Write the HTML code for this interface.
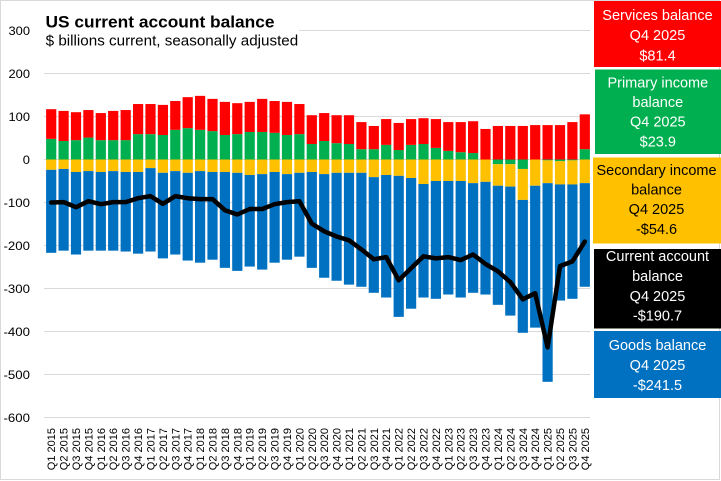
<!DOCTYPE html>
<html><head><meta charset="utf-8"><style>
html,body{margin:0;padding:0;background:#fff;}
body{width:721px;height:481px;overflow:hidden;}
svg{display:block;}
</style></head><body>
<svg width="721" height="481" viewBox="0 0 721 481" xmlns="http://www.w3.org/2000/svg" font-family="'Liberation Sans', sans-serif">
<rect x="0" y="0" width="721" height="481" fill="#fff"/>
<rect x="0.5" y="0.5" width="719" height="479" fill="none" stroke="#d9d9d9" stroke-width="1"/>
<g stroke="#d9d9d9" stroke-width="1">
<line x1="299" y1="30.5" x2="590" y2="30.5"/>
<line x1="44" y1="73.5" x2="590" y2="73.5"/>
<line x1="44" y1="116.5" x2="590" y2="116.5"/>
<line x1="44" y1="159.5" x2="590" y2="159.5"/>
<line x1="44" y1="202.5" x2="590" y2="202.5"/>
<line x1="44" y1="245.5" x2="590" y2="245.5"/>
<line x1="44" y1="288.5" x2="590" y2="288.5"/>
<line x1="44" y1="331.5" x2="590" y2="331.5"/>
<line x1="44" y1="374.5" x2="590" y2="374.5"/>
<line x1="44" y1="417.5" x2="590" y2="417.5"/>
</g>
<g transform="translate(0,159.5) scale(1,-0.43)">
<g fill="#00b050">
<rect x="46.1" y="0" width="10.2" height="48"/>
<rect x="58.5" y="0" width="10.2" height="43"/>
<rect x="70.9" y="0" width="10.2" height="45"/>
<rect x="83.3" y="0" width="10.2" height="51"/>
<rect x="95.7" y="0" width="10.2" height="45"/>
<rect x="108.1" y="0" width="10.2" height="45"/>
<rect x="120.6" y="0" width="10.2" height="45"/>
<rect x="133.0" y="0" width="10.2" height="59"/>
<rect x="145.4" y="0" width="10.2" height="59"/>
<rect x="157.8" y="0" width="10.2" height="57"/>
<rect x="170.2" y="0" width="10.2" height="69"/>
<rect x="182.6" y="0" width="10.2" height="73"/>
<rect x="195.0" y="0" width="10.2" height="69"/>
<rect x="207.4" y="0" width="10.2" height="66"/>
<rect x="219.8" y="0" width="10.2" height="57"/>
<rect x="232.2" y="0" width="10.2" height="59"/>
<rect x="244.6" y="0" width="10.2" height="64"/>
<rect x="257.1" y="0" width="10.2" height="64"/>
<rect x="269.5" y="0" width="10.2" height="62"/>
<rect x="281.9" y="0" width="10.2" height="57"/>
<rect x="294.3" y="0" width="10.2" height="59"/>
<rect x="306.7" y="0" width="10.2" height="36"/>
<rect x="319.1" y="0" width="10.2" height="43"/>
<rect x="331.5" y="0" width="10.2" height="38"/>
<rect x="343.9" y="0" width="10.2" height="36"/>
<rect x="356.3" y="0" width="10.2" height="24"/>
<rect x="368.7" y="0" width="10.2" height="24"/>
<rect x="381.1" y="0" width="10.2" height="34"/>
<rect x="393.6" y="0" width="10.2" height="22"/>
<rect x="406.0" y="0" width="10.2" height="34"/>
<rect x="418.4" y="0" width="10.2" height="36"/>
<rect x="430.8" y="0" width="10.2" height="27"/>
<rect x="443.2" y="0" width="10.2" height="20"/>
<rect x="455.6" y="0" width="10.2" height="17"/>
<rect x="468.0" y="0" width="10.2" height="15"/>
<rect x="492.8" y="-11" width="10.2" height="11"/>
<rect x="505.2" y="-11" width="10.2" height="11"/>
<rect x="517.7" y="-22" width="10.2" height="22"/>
<rect x="542.5" y="-2" width="10.2" height="2"/>
<rect x="554.9" y="-4" width="10.2" height="4"/>
<rect x="567.3" y="-2" width="10.2" height="2"/>
<rect x="579.7" y="0" width="10.2" height="24"/>
</g>
<g fill="#ff0000">
<rect x="46.1" y="48" width="10.2" height="69"/>
<rect x="58.5" y="43" width="10.2" height="70"/>
<rect x="70.9" y="45" width="10.2" height="65"/>
<rect x="83.3" y="51" width="10.2" height="64"/>
<rect x="95.7" y="45" width="10.2" height="63"/>
<rect x="108.1" y="45" width="10.2" height="68"/>
<rect x="120.6" y="45" width="10.2" height="70"/>
<rect x="133.0" y="59" width="10.2" height="70"/>
<rect x="145.4" y="59" width="10.2" height="70"/>
<rect x="157.8" y="57" width="10.2" height="70"/>
<rect x="170.2" y="69" width="10.2" height="67"/>
<rect x="182.6" y="73" width="10.2" height="72"/>
<rect x="195.0" y="69" width="10.2" height="79"/>
<rect x="207.4" y="66" width="10.2" height="75"/>
<rect x="219.8" y="57" width="10.2" height="77"/>
<rect x="232.2" y="59" width="10.2" height="72"/>
<rect x="244.6" y="64" width="10.2" height="70"/>
<rect x="257.1" y="64" width="10.2" height="77"/>
<rect x="269.5" y="62" width="10.2" height="74"/>
<rect x="281.9" y="57" width="10.2" height="77"/>
<rect x="294.3" y="59" width="10.2" height="70"/>
<rect x="306.7" y="36" width="10.2" height="67"/>
<rect x="319.1" y="43" width="10.2" height="65"/>
<rect x="331.5" y="38" width="10.2" height="65"/>
<rect x="343.9" y="36" width="10.2" height="67"/>
<rect x="356.3" y="24" width="10.2" height="63"/>
<rect x="368.7" y="24" width="10.2" height="54"/>
<rect x="381.1" y="34" width="10.2" height="60"/>
<rect x="393.6" y="22" width="10.2" height="63"/>
<rect x="406.0" y="34" width="10.2" height="60"/>
<rect x="418.4" y="36" width="10.2" height="60"/>
<rect x="430.8" y="27" width="10.2" height="67"/>
<rect x="443.2" y="20" width="10.2" height="67"/>
<rect x="455.6" y="17" width="10.2" height="70"/>
<rect x="468.0" y="15" width="10.2" height="74"/>
<rect x="480.4" y="0" width="10.2" height="71"/>
<rect x="492.8" y="0" width="10.2" height="78"/>
<rect x="505.2" y="0" width="10.2" height="78"/>
<rect x="517.7" y="0" width="10.2" height="78"/>
<rect x="530.1" y="0" width="10.2" height="80"/>
<rect x="542.5" y="0" width="10.2" height="80"/>
<rect x="554.9" y="0" width="10.2" height="80"/>
<rect x="567.3" y="0" width="10.2" height="87"/>
<rect x="579.7" y="24" width="10.2" height="81"/>
</g>
<g fill="#ffc000">
<rect x="46.1" y="-24" width="10.2" height="24"/>
<rect x="58.5" y="-22" width="10.2" height="22"/>
<rect x="70.9" y="-29" width="10.2" height="29"/>
<rect x="83.3" y="-27" width="10.2" height="27"/>
<rect x="95.7" y="-29" width="10.2" height="29"/>
<rect x="108.1" y="-27" width="10.2" height="27"/>
<rect x="120.6" y="-29" width="10.2" height="29"/>
<rect x="133.0" y="-29" width="10.2" height="29"/>
<rect x="145.4" y="-20" width="10.2" height="20"/>
<rect x="157.8" y="-31" width="10.2" height="31"/>
<rect x="170.2" y="-27" width="10.2" height="27"/>
<rect x="182.6" y="-31" width="10.2" height="31"/>
<rect x="195.0" y="-27" width="10.2" height="27"/>
<rect x="207.4" y="-29" width="10.2" height="29"/>
<rect x="219.8" y="-29" width="10.2" height="29"/>
<rect x="232.2" y="-31" width="10.2" height="31"/>
<rect x="244.6" y="-36" width="10.2" height="36"/>
<rect x="257.1" y="-34" width="10.2" height="34"/>
<rect x="269.5" y="-29" width="10.2" height="29"/>
<rect x="281.9" y="-34" width="10.2" height="34"/>
<rect x="294.3" y="-31" width="10.2" height="31"/>
<rect x="306.7" y="-29" width="10.2" height="29"/>
<rect x="319.1" y="-34" width="10.2" height="34"/>
<rect x="331.5" y="-31" width="10.2" height="31"/>
<rect x="343.9" y="-31" width="10.2" height="31"/>
<rect x="356.3" y="-31" width="10.2" height="31"/>
<rect x="368.7" y="-41" width="10.2" height="41"/>
<rect x="381.1" y="-36" width="10.2" height="36"/>
<rect x="393.6" y="-38" width="10.2" height="38"/>
<rect x="406.0" y="-43" width="10.2" height="43"/>
<rect x="418.4" y="-57" width="10.2" height="57"/>
<rect x="430.8" y="-50" width="10.2" height="50"/>
<rect x="443.2" y="-50" width="10.2" height="50"/>
<rect x="455.6" y="-50" width="10.2" height="50"/>
<rect x="468.0" y="-55" width="10.2" height="55"/>
<rect x="480.4" y="-52" width="10.2" height="52"/>
<rect x="492.8" y="-61" width="10.2" height="50"/>
<rect x="505.2" y="-63" width="10.2" height="52"/>
<rect x="517.7" y="-94" width="10.2" height="72"/>
<rect x="530.1" y="-61" width="10.2" height="61"/>
<rect x="542.5" y="-55" width="10.2" height="53"/>
<rect x="554.9" y="-58" width="10.2" height="54"/>
<rect x="567.3" y="-58" width="10.2" height="56"/>
<rect x="579.7" y="-55" width="10.2" height="55"/>
</g>
<g fill="#0070c0">
<rect x="46.1" y="-217" width="10.2" height="193"/>
<rect x="58.5" y="-212" width="10.2" height="190"/>
<rect x="70.9" y="-221" width="10.2" height="192"/>
<rect x="83.3" y="-212" width="10.2" height="185"/>
<rect x="95.7" y="-212" width="10.2" height="183"/>
<rect x="108.1" y="-212" width="10.2" height="185"/>
<rect x="120.6" y="-214" width="10.2" height="185"/>
<rect x="133.0" y="-219" width="10.2" height="190"/>
<rect x="145.4" y="-214" width="10.2" height="194"/>
<rect x="157.8" y="-230" width="10.2" height="199"/>
<rect x="170.2" y="-221" width="10.2" height="194"/>
<rect x="182.6" y="-235" width="10.2" height="204"/>
<rect x="195.0" y="-240" width="10.2" height="213"/>
<rect x="207.4" y="-233" width="10.2" height="204"/>
<rect x="219.8" y="-252" width="10.2" height="223"/>
<rect x="232.2" y="-259" width="10.2" height="228"/>
<rect x="244.6" y="-249" width="10.2" height="213"/>
<rect x="257.1" y="-256" width="10.2" height="222"/>
<rect x="269.5" y="-240" width="10.2" height="211"/>
<rect x="281.9" y="-233" width="10.2" height="199"/>
<rect x="294.3" y="-226" width="10.2" height="195"/>
<rect x="306.7" y="-252" width="10.2" height="223"/>
<rect x="319.1" y="-275" width="10.2" height="241"/>
<rect x="331.5" y="-282" width="10.2" height="251"/>
<rect x="343.9" y="-291" width="10.2" height="260"/>
<rect x="356.3" y="-296" width="10.2" height="265"/>
<rect x="368.7" y="-310" width="10.2" height="269"/>
<rect x="381.1" y="-321" width="10.2" height="285"/>
<rect x="393.6" y="-366" width="10.2" height="328"/>
<rect x="406.0" y="-347" width="10.2" height="304"/>
<rect x="418.4" y="-321" width="10.2" height="264"/>
<rect x="430.8" y="-324" width="10.2" height="274"/>
<rect x="443.2" y="-314" width="10.2" height="264"/>
<rect x="455.6" y="-321" width="10.2" height="271"/>
<rect x="468.0" y="-310" width="10.2" height="255"/>
<rect x="480.4" y="-314" width="10.2" height="262"/>
<rect x="492.8" y="-338" width="10.2" height="277"/>
<rect x="505.2" y="-363" width="10.2" height="300"/>
<rect x="517.7" y="-403" width="10.2" height="309"/>
<rect x="530.1" y="-391" width="10.2" height="330"/>
<rect x="542.5" y="-517" width="10.2" height="462"/>
<rect x="554.9" y="-328" width="10.2" height="270"/>
<rect x="567.3" y="-324" width="10.2" height="266"/>
<rect x="579.7" y="-296" width="10.2" height="241"/>
</g>
</g>
<polyline fill="none" stroke="#000" stroke-width="4.5" stroke-linejoin="round" stroke-linecap="round" points="51.2,202.5 63.6,202.1 76.0,207.2 88.4,201.2 100.8,204.2 113.2,202.1 125.7,202.1 138.1,198.2 150.5,196.1 162.9,203.8 175.3,196.1 187.7,198.2 200.1,199.1 212.5,199.1 224.9,210.2 237.3,214.5 249.7,209.0 262.2,209.0 274.6,204.2 287.0,202.1 299.4,201.2 311.8,223.6 324.2,231.3 336.6,236.5 349.0,240.3 361.4,249.4 373.8,259.3 386.2,257.1 398.7,280.3 411.1,268.3 423.5,256.3 435.9,258.4 448.3,257.1 460.7,260.1 473.1,254.5 485.5,264.0 497.9,271.3 510.3,282.1 522.8,299.3 535.2,293.2 547.6,347.4 560.0,266.1 572.4,261.4 584.8,241.6"/>
<text x="45.5" y="27.3" font-size="17" font-weight="bold" fill="#000" textLength="229" lengthAdjust="spacingAndGlyphs">US current account balance</text>
<text x="45.7" y="45.5" font-size="14.5" fill="#000" textLength="252.5" lengthAdjust="spacingAndGlyphs">$ billions current, seasonally adjusted</text>
<g font-size="12" fill="#000" text-anchor="end">
<text x="30" y="34.8" textLength="21.5" lengthAdjust="spacingAndGlyphs">300</text>
<text x="30" y="77.8" textLength="21.5" lengthAdjust="spacingAndGlyphs">200</text>
<text x="30" y="120.8" textLength="21.5" lengthAdjust="spacingAndGlyphs">100</text>
<text x="30" y="163.8" textLength="7.2" lengthAdjust="spacingAndGlyphs">0</text>
<text x="30" y="206.8" textLength="26.5" lengthAdjust="spacingAndGlyphs">-100</text>
<text x="30" y="249.8" textLength="26.5" lengthAdjust="spacingAndGlyphs">-200</text>
<text x="30" y="292.8" textLength="26.5" lengthAdjust="spacingAndGlyphs">-300</text>
<text x="30" y="335.8" textLength="26.5" lengthAdjust="spacingAndGlyphs">-400</text>
<text x="30" y="378.8" textLength="26.5" lengthAdjust="spacingAndGlyphs">-500</text>
<text x="30" y="421.8" textLength="26.5" lengthAdjust="spacingAndGlyphs">-600</text>
</g>
<g font-size="11" fill="#000" text-anchor="end">
<text transform="translate(55.2,428) rotate(-90)">Q1 2015</text>
<text transform="translate(67.6,428) rotate(-90)">Q2 2015</text>
<text transform="translate(80.0,428) rotate(-90)">Q3 2015</text>
<text transform="translate(92.4,428) rotate(-90)">Q4 2015</text>
<text transform="translate(104.8,428) rotate(-90)">Q1 2016</text>
<text transform="translate(117.2,428) rotate(-90)">Q2 2016</text>
<text transform="translate(129.7,428) rotate(-90)">Q3 2016</text>
<text transform="translate(142.1,428) rotate(-90)">Q4 2016</text>
<text transform="translate(154.5,428) rotate(-90)">Q1 2017</text>
<text transform="translate(166.9,428) rotate(-90)">Q2 2017</text>
<text transform="translate(179.3,428) rotate(-90)">Q3 2017</text>
<text transform="translate(191.7,428) rotate(-90)">Q4 2017</text>
<text transform="translate(204.1,428) rotate(-90)">Q1 2018</text>
<text transform="translate(216.5,428) rotate(-90)">Q2 2018</text>
<text transform="translate(228.9,428) rotate(-90)">Q3 2018</text>
<text transform="translate(241.3,428) rotate(-90)">Q4 2018</text>
<text transform="translate(253.7,428) rotate(-90)">Q1 2019</text>
<text transform="translate(266.2,428) rotate(-90)">Q2 2019</text>
<text transform="translate(278.6,428) rotate(-90)">Q3 2019</text>
<text transform="translate(291.0,428) rotate(-90)">Q4 2019</text>
<text transform="translate(303.4,428) rotate(-90)">Q1 2020</text>
<text transform="translate(315.8,428) rotate(-90)">Q2 2020</text>
<text transform="translate(328.2,428) rotate(-90)">Q3 2020</text>
<text transform="translate(340.6,428) rotate(-90)">Q4 2020</text>
<text transform="translate(353.0,428) rotate(-90)">Q1 2021</text>
<text transform="translate(365.4,428) rotate(-90)">Q2 2021</text>
<text transform="translate(377.8,428) rotate(-90)">Q3 2021</text>
<text transform="translate(390.2,428) rotate(-90)">Q4 2021</text>
<text transform="translate(402.7,428) rotate(-90)">Q1 2022</text>
<text transform="translate(415.1,428) rotate(-90)">Q2 2022</text>
<text transform="translate(427.5,428) rotate(-90)">Q3 2022</text>
<text transform="translate(439.9,428) rotate(-90)">Q4 2022</text>
<text transform="translate(452.3,428) rotate(-90)">Q1 2023</text>
<text transform="translate(464.7,428) rotate(-90)">Q2 2023</text>
<text transform="translate(477.1,428) rotate(-90)">Q3 2023</text>
<text transform="translate(489.5,428) rotate(-90)">Q4 2023</text>
<text transform="translate(501.9,428) rotate(-90)">Q1 2024</text>
<text transform="translate(514.3,428) rotate(-90)">Q2 2024</text>
<text transform="translate(526.8,428) rotate(-90)">Q3 2024</text>
<text transform="translate(539.2,428) rotate(-90)">Q4 2024</text>
<text transform="translate(551.6,428) rotate(-90)">Q1 2025</text>
<text transform="translate(564.0,428) rotate(-90)">Q2 2025</text>
<text transform="translate(576.4,428) rotate(-90)">Q3 2025</text>
<text transform="translate(588.8,428) rotate(-90)">Q4 2025</text>
</g>
<!-- legend boxes -->
<rect x="594" y="1" width="127" height="66" fill="#ff0000"/>
<rect x="595" y="69.5" width="126" height="84.5" fill="#00b050"/>
<rect x="593" y="157.5" width="128" height="86" fill="#ffc000"/>
<rect x="594" y="249" width="127" height="79.5" fill="#000000"/>
<rect x="594" y="331" width="127" height="67" fill="#0070c0"/>
<g font-size="14.5" text-anchor="middle">
<g fill="#fff">
<text x="657.5" y="20">Services balance</text>
<text x="657.5" y="40">Q4 2025</text>
<text x="657.5" y="60.5">$81.4</text>
</g>
<g fill="#fff">
<text x="657.8" y="87.5">Primary income</text>
<text x="657.8" y="107">balance</text>
<text x="657.8" y="126.7">Q4 2025</text>
<text x="657.8" y="146.4">$23.9</text>
</g>
<g fill="#000">
<text x="656.5" y="175">Secondary income</text>
<text x="656.5" y="194.5">balance</text>
<text x="656.5" y="214.2">Q4 2025</text>
<text x="656.5" y="234">-$54.6</text>
</g>
<g fill="#fff">
<text x="657.5" y="261">Current account</text>
<text x="657.5" y="281">balance</text>
<text x="657.5" y="300.8">Q4 2025</text>
<text x="657.5" y="320.5">-$190.7</text>
</g>
<g fill="#fff">
<text x="657.5" y="350">Goods balance</text>
<text x="657.5" y="370">Q4 2025</text>
<text x="657.5" y="390">-$241.5</text>
</g>
</g>
</svg>
</body></html>
